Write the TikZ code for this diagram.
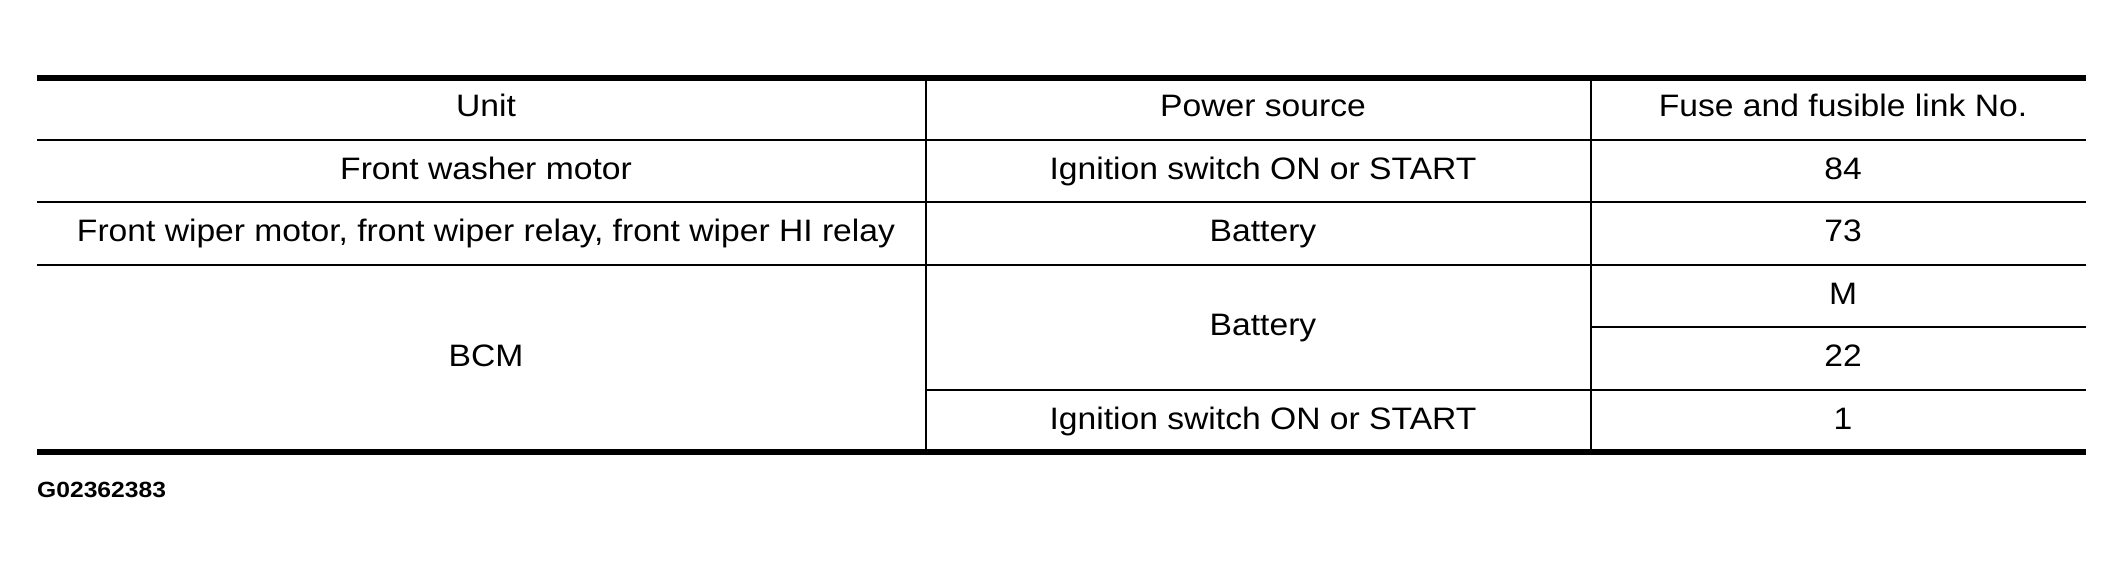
\documentclass[tikz,border=0pt]{standalone}
\usepackage{fontspec}
\setmainfont{Liberation Sans}[FakeStretch=1.085]
\newfontfamily\glabfont{Liberation Sans}[FakeStretch=1.12]
\begin{document}
\begin{tikzpicture}[x=1pt,y=-1pt,
  thinrule/.style={line width=2.6pt},
  thickrule/.style={line width=6pt},
  cell/.style={anchor=base,inner sep=0pt,font=\fontsize{31}{36}\selectfont},
  glab/.style={anchor=base west,inner sep=0pt,font=\glabfont\bfseries\fontsize{22}{25}\selectfont}]
\useasboundingbox[fill=white] (0,0) rectangle (2124,575);
% vertical rules
\draw[thinrule] (926,78) -- (926,452);
\draw[thinrule] (1591,78) -- (1591,452);
% horizontal rules
\draw[thinrule] (37,140) -- (2086,140);
\draw[thinrule] (37,202) -- (2086,202);
\draw[thinrule] (37,265) -- (2086,265);
\draw[thinrule] (1591,327) -- (2086,327);
\draw[thinrule] (926,390) -- (2086,390);
\draw[thickrule] (37,78) -- (2086,78);
\draw[thickrule] (37,452) -- (2086,452);
% header
\node[cell] (hunit) at (486,117) {Unit};
\node[cell] (hpower) at (1263,117) {Power source};
\node[cell] (hfuse) at (1843,117) {Fuse and fusible link No.};
% row 1
\node[cell] (u1) at (486,179) {Front washer motor};
\node[cell] (p1) at (1263,179) {Ignition switch ON or START};
\node[cell] (f1) at (1843,179) {84};
% row 2
\node[cell] (u2) at (486,241.5) {Front wiper motor, front wiper relay, front wiper HI relay};
\node[cell] (p2) at (1263,241.5) {Battery};
\node[cell] (f2) at (1843,241.5) {73};
% BCM rows
\node[cell] (u3) at (486,366.5) {BCM};
\node[cell] (p3) at (1263,335.5) {Battery};
\node[cell] (f3) at (1843,304) {M};
\node[cell] (f4) at (1843,366.5) {22};
\node[cell] (p4) at (1263,429) {Ignition switch ON or START};
\node[cell] (f5) at (1843,429) {1};
% figure code
\node[glab] (gcode) at (37,497) {G02362383};
\end{tikzpicture}
\end{document}
